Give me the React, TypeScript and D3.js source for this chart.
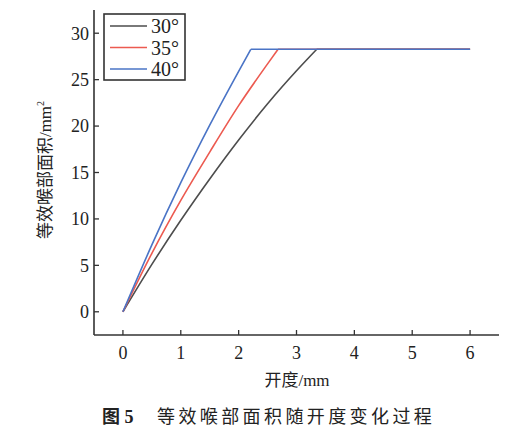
import React from "react";
import * as d3 from "d3";

const seriesNames = ["30°", "35°", "40°"];
const seriesColors = ["#4d4d4d", "#ec5a50", "#4a74c6"];
// rising part of each curve (opening mm, area mm²)
const x30 = [0, 0.5, 1.0, 1.5, 2.0, 2.5, 3.0, 3.35];
const y30 = [0, 5.1, 9.85, 14.3, 18.5, 22.4, 25.95, 28.27];
const x35 = [0, 0.5, 1.0, 1.5, 2.0, 2.5, 2.68];
const y35 = [0, 6.3, 12.0, 17.2, 22.2, 26.7, 28.27];
const x40 = [0, 0.5, 1.0, 1.5, 2.0, 2.21];
const y40 = [0, 7.2, 13.9, 20.1, 25.9, 28.27];
const plateauValue = 28.27;
const plateauEnd = 6;

const xTicks = [0, 1, 2, 3, 4, 5, 6];
const yTicks = [0, 5, 10, 15, 20, 25, 30];
const xTitle = "开度/mm";
const yTitle = "等效喉部面积/mm";
const captionLabel = "图 5";
const captionText = "等效喉部面积随开度变化过程";

export default function App() {
  const x = d3.scaleLinear().domain([-0.5, 6.5]).range([94, 499]);
  const y = d3.scaleLinear().domain([-2.5, 32.5]).range([335, 10]);
  const series = [
    { xs: x30, ys: y30 },
    { xs: x35, ys: y35 },
    { xs: x40, ys: y40 },
  ];
  const line = d3
    .line<[number, number]>()
    .x((d) => x(d[0]))
    .y((d) => y(d[1]))
    .curve(d3.curveMonotoneX);
  const axisColor = "#333";
  const serif = "'Liberation Serif', 'Times New Roman', serif";
  const cjk = "'Liberation Serif', 'Noto Sans CJK SC', serif";
  const x0 = x.range()[0];
  const yb = y.range()[0];

  return (
    <svg
      width={524}
      height={442}
      style={{ position: "absolute", left: 0, top: 0, background: "#fff" }}
    >
      {/* axes */}
      <line x1={x0} x2={x0} y1={y.range()[1]} y2={yb} stroke={axisColor} strokeWidth={1.6} />
      <line x1={x0} x2={x.range()[1]} y1={yb} y2={yb} stroke={axisColor} strokeWidth={1.6} />
      {yTicks.map((t) => (
        <g key={"y" + t}>
          <line x1={x0} x2={x0 + 5} y1={y(t)} y2={y(t)} stroke={axisColor} strokeWidth={1.3} />
          <text
            x={x0 - 5}
            y={y(t)}
            dy="0.35em"
            textAnchor="end"
            fontFamily={serif}
            fontSize={18}
            fill="#222"
          >
            {t}
          </text>
        </g>
      ))}
      {xTicks.map((t) => (
        <g key={"x" + t}>
          <line x1={x(t)} x2={x(t)} y1={yb} y2={yb - 5} stroke={axisColor} strokeWidth={1.3} />
          <text
            x={x(t)}
            y={yb + 24}
            textAnchor="middle"
            fontFamily={serif}
            fontSize={18}
            fill="#222"
          >
            {t}
          </text>
        </g>
      ))}

      {/* curves */}
      {series.map((s, i) => {
        const pts = s.xs.map((v, k) => [v, s.ys[k]] as [number, number]);
        const last = pts[pts.length - 1];
        return (
          <g key={"s" + i}>
            <path d={line(pts) || ""} fill="none" stroke={seriesColors[i]} strokeWidth={1.6} />
            <line
              x1={x(last[0])}
              x2={x(plateauEnd)}
              y1={y(plateauValue)}
              y2={y(plateauValue)}
              stroke={seriesColors[i]}
              strokeWidth={1.6}
            />
          </g>
        );
      })}

      {/* legend */}
      <rect x={104} y={14} width={81} height={66} fill="#fff" stroke={axisColor} strokeWidth={1.6} />
      {seriesNames.map((n, i) => (
        <g key={"l" + i}>
          <line
            x1={110}
            x2={147}
            y1={26 + i * 21.5}
            y2={26 + i * 21.5}
            stroke={seriesColors[i]}
            strokeWidth={1.6}
          />
          <text x={151} y={26 + i * 21.5} dy="0.35em" fontFamily={serif} fontSize={20} fill="#222">
            {n}
          </text>
        </g>
      ))}

      {/* axis titles */}
      <text
        transform={`translate(45,170) rotate(-90)`}
        textAnchor="middle"
        fontFamily={cjk}
        fontSize={17}
        fill="#222"
        dy="0.35em"
      >
        {yTitle}
        <tspan dy="-7" fontSize={10}>2</tspan>
      </text>
      <text x={297} y={386} textAnchor="middle" fontFamily={cjk} fontSize={17} fill="#222">
        {xTitle}
      </text>

      {/* caption */}
      <text x={102} y={423} fontFamily={cjk} fontSize={18} fontWeight="bold" fill="#222">
        {captionLabel}
      </text>
      <text
        x={157}
        y={423}
        fontFamily="'Noto Sans CJK SC', sans-serif"
        fontSize={18}
        letterSpacing={3.4}
        fill="#222"
      >
        {captionText}
      </text>
    </svg>
  );
}
